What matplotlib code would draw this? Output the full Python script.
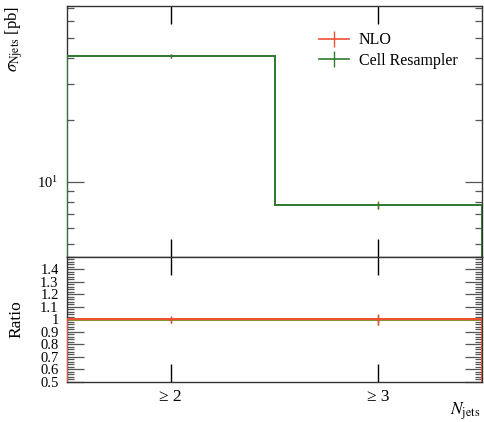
import matplotlib
matplotlib.use("Agg")
import matplotlib.pyplot as plt
import numpy as np
from matplotlib.ticker import LogLocator, NullFormatter, MultipleLocator, FixedLocator
from matplotlib.lines import Line2D

plt.rcParams['font.family'] = ['Liberation Serif', 'DejaVu Serif']
plt.rcParams['mathtext.fontset'] = 'stix'

# ---- data ----
bin_edges = [1.5, 2.5, 3.5]
bin_labels = ["≥ 2", "≥ 3"]
nlo_vals = [40.7, 7.71]
nlo_errs = [1.0, 0.35]
cell_vals = [40.6, 7.70]
cell_errs = [0.9, 0.3]

red = '#ee4f33'
green = '#2e7d32'
frame_col = '#333333'

edges = np.array(bin_edges)
centers = 0.5 * (edges[:-1] + edges[1:])
nlo = np.array(nlo_vals); nloe = np.array(nlo_errs)
cell = np.array(cell_vals); celle = np.array(cell_errs)

fig = plt.figure(figsize=(4.84, 4.22), dpi=100)
ax = fig.add_axes([0.1384, 0.391, 0.8575, 0.5948])
rax = fig.add_axes([0.1384, 0.0948, 0.8575, 0.2962], sharex=ax)

# main panel
ax.stairs(nlo, edges, color=red, lw=1.4, zorder=2)
ax.errorbar(centers, nlo, yerr=nloe, fmt='none', ecolor=red, elinewidth=1.0, zorder=2)
ax.stairs(cell, edges, color=green, lw=1.4, zorder=3)
ax.errorbar(centers, cell, yerr=celle, fmt='none', ecolor=green, elinewidth=1.0, zorder=3)
ax.set_yscale('log')
ax.set_ylim(4.33, 71.3)
ax.set_xlim(edges[0], edges[-1])
ax.yaxis.set_major_locator(LogLocator(base=10, numticks=10))
ax.yaxis.set_minor_locator(LogLocator(base=10, subs=np.arange(2, 10), numticks=10))
ax.yaxis.set_minor_formatter(NullFormatter())
ax.set_ylabel(r'$\sigma_{\mathrm{Njets}}$ [pb]', fontsize=12, loc='top')
ax.yaxis.set_label_coords(-0.102, 1.0)

handles = [Line2D([0], [0], color=red, lw=1.2, marker='|', markersize=11, markeredgewidth=1.0),
           Line2D([0], [0], color=green, lw=1.2, marker='|', markersize=11, markeredgewidth=1.0)]
ax.legend(handles, ['NLO', 'Cell Resampler'], loc='upper left', bbox_to_anchor=(0.58, 0.94),
          frameon=False, fontsize=11.5, handlelength=1.9, handletextpad=0.6, labelspacing=0.3,
          borderpad=0.2)

# ratio panel
rnlo = nlo / nlo
rnloe = nloe / nlo
rcell = cell / nlo
rcelle = celle / nlo
rax.stairs(rcell, edges, color='#8a8a30', lw=1.4, zorder=2)
rax.errorbar(centers, rcell, yerr=rcelle, fmt='none', ecolor=green, elinewidth=1.0, zorder=2)
rax.stairs(rnlo, edges, color=red, lw=1.4, zorder=3)
rax.errorbar(centers, rnlo, yerr=rnloe, fmt='none', ecolor=red, elinewidth=1.0, zorder=3)
rax.set_ylim(0.5, 1.5)
rax.yaxis.set_major_locator(FixedLocator([0.5, 0.6, 0.7, 0.8, 0.9, 1.0, 1.1, 1.2, 1.3, 1.4]))
rax.yaxis.set_minor_locator(MultipleLocator(0.02))
rax.set_yticklabels(['0.5', '0.6', '0.7', '0.8', '0.9', '1', '1.1', '1.2', '1.3', '1.4'])
rax.set_ylabel('Ratio', fontsize=12.5)
rax.yaxis.set_label_coords(-0.102, 0.5)
rax.set_xticks(centers)
rax.set_xticklabels(bin_labels, fontsize=12.5)
rax.set_xlabel(r'$N_{\mathrm{jets}}$', fontsize=12.5, loc='right')
rax.xaxis.set_label_coords(0.997, -0.145)

for a in (ax, rax):
    for s in a.spines.values():
        s.set_color(frame_col)
        s.set_linewidth(1.0)
    a.tick_params(axis='y', which='major', direction='in', length=12, width=0.9,
                  color='#555555', left=True, right=True, labelsize=10.5, pad=6)
    a.tick_params(axis='y', which='minor', direction='in', length=5, width=0.9,
                  color='#555555', left=True, right=True)
    a.tick_params(axis='x', which='major', direction='in', length=13, width=1.0,
                  color='black', top=True, bottom=True, pad=5)
    a.tick_params(axis='x', which='minor', bottom=False, top=False)

ax.tick_params(axis='x', labelbottom=False)

fig.savefig('out.png', dpi=100)
